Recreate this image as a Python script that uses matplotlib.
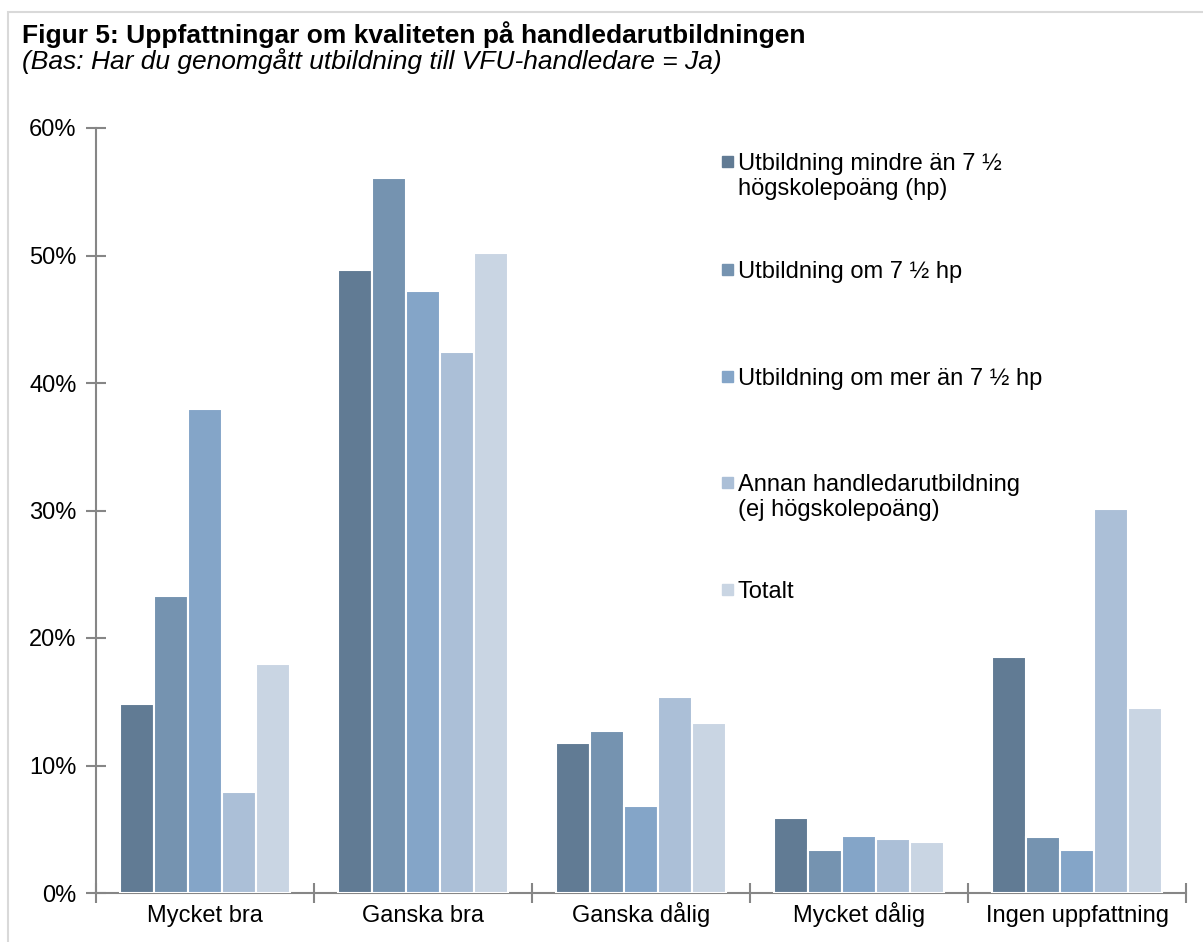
import numpy as np
import matplotlib.pyplot as plt
import matplotlib.patheffects as pe
from matplotlib.patches import Rectangle

plt.rcParams['font.family'] = ['Liberation Sans', 'DejaVu Sans']

categories = ['Mycket bra', 'Ganska bra', 'Ganska dålig', 'Mycket dålig', 'Ingen uppfattning']
series_names = ['Utbildning mindre än 7 ½\nhögskolepoäng (hp)',
                'Utbildning om 7 ½ hp',
                'Utbildning om mer än 7 ½ hp',
                'Annan handledarutbildning\n(ej högskolepoäng)',
                'Totalt']
mindre = [14.8, 48.9, 11.8, 5.9, 18.5]
om_75 = [23.3, 56.1, 12.7, 3.4, 4.4]
mer = [38.0, 47.2, 6.8, 4.5, 3.4]
annan = [7.9, 42.4, 15.4, 4.2, 30.1]
totalt = [18.0, 50.2, 13.3, 4.0, 14.5]
values = [mindre, om_75, mer, annan, totalt]
colors = ['#617b94', '#7593b0', '#84a5c8', '#abbfd7', '#c9d5e3']

W, H = 1203, 942
fig = plt.figure(figsize=(W / 100, H / 100), dpi=100)
fig.patches.append(Rectangle((8 / W, -0.1), 1.2, 1 - 12 / H + 0.1, transform=fig.transFigure,
                             fill=False, edgecolor='#d9d9d9', linewidth=1.5))
ax = fig.add_axes([96 / W, 1 - 893 / H, 1090 / W, 765 / H])

x = np.arange(len(categories))
w = 0.156
shadow = [pe.SimplePatchShadow(offset=(1, -1), shadow_rgbFace='#999999', alpha=0.25), pe.Normal()]
for i, (vals, c) in enumerate(zip(values, colors)):
    bars = ax.bar(x + (i - 2) * w, vals, width=w, color=c, edgecolor='white', linewidth=1.5,
                  label=series_names[i], zorder=3)
    for b in bars:
        b.set_path_effects(shadow)

ax.set_xlim(-0.5, len(categories) - 0.5)
ax.set_ylim(0, 60)
ax.set_yticks(np.arange(0, 61, 10))
ax.set_yticklabels([f'{v}%' for v in range(0, 61, 10)])
ax.set_xticks(np.arange(-0.5, len(categories), 1))
ax.set_xticklabels([])
ax.set_xticks(x, minor=True)
ax.set_xticklabels(categories, minor=True)
ax.tick_params(axis='x', which='minor', length=0, pad=21, labelsize=17)
ax.tick_params(axis='x', which='major', direction='inout', length=14, color='#868686', width=1.5)
ax.tick_params(axis='y', direction='inout', length=14, color='#868686', width=1.5, pad=7, labelsize=17)
# same baseline for all category labels
for lab in ax.get_xticklabels(minor=True):
    lab.set_va('baseline')

for s in ['top', 'right']:
    ax.spines[s].set_visible(False)
for s in ['left', 'bottom']:
    ax.spines[s].set_color('#868686')
    ax.spines[s].set_linewidth(1.5)

# legend drawn by hand so entry tops are evenly spaced, like the original
leg_tops = [152, 260, 367, 473, 580]
for name, c, top in zip(series_names, colors, leg_tops):
    fig.patches.append(Rectangle((722 / W, 1 - (top + 15) / H), 11 / W, 11 / H,
                                 transform=fig.transFigure, color=c))
    fig.text(738 / W, 1 - (top + 1) / H, name, fontsize=17, va='top', ha='left',
             linespacing=1.15)

fig.text(22 / W, 1 - 35 / H, 'Figur 5: Uppfattningar om kvaliteten på handledarutbildningen',
         fontsize=19, fontweight='bold', va='center')
fig.text(22 / W, 1 - 61 / H, '(Bas: Har du genomgått utbildning till VFU-handledare = Ja)',
         fontsize=19, style='italic', va='center')

fig.savefig('out.png', dpi=100)
